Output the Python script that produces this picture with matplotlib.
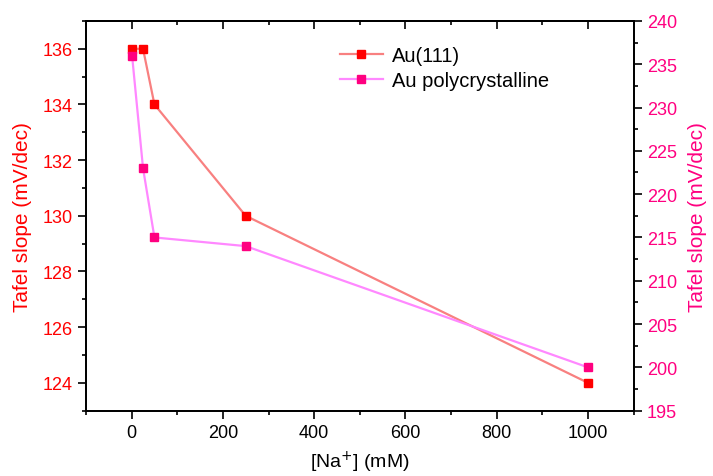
import matplotlib.pyplot as plt
from matplotlib.ticker import MultipleLocator

plt.rcParams.update({
    "font.family": ["Liberation Sans", "DejaVu Sans"],
    "font.size": 13,
    "axes.linewidth": 1.3,
})

# Na+ concentration (mM)
na_conc = [1, 25, 50, 250, 1000]
# Tafel slopes (mV/dec)
au111_slope = [136, 136, 134, 130, 124]
aupoly_slope = [236, 223, 215, 214, 200]

red_line = "#F88080"
red_marker = "#FF0000"
pink_line = "#FF88FF"
pink_marker = "#FF0080"

fig = plt.figure(figsize=(7.13, 4.77), dpi=100)
ax1 = fig.add_axes([0.1206, 0.137, 0.768, 0.817])
ax2 = ax1.twinx()

l1, = ax1.plot(na_conc, au111_slope, color=red_line, lw=1.6, marker='s',
               markersize=6, markerfacecolor=red_marker, markeredgecolor=red_marker,
               label="Au(111)")
l2, = ax2.plot(na_conc, aupoly_slope, color=pink_line, lw=1.6, marker='s',
               markersize=6, markerfacecolor=pink_marker, markeredgecolor=pink_marker,
               label="Au polycrystalline")

ax1.set_xlim(-100, 1100)
ax1.set_ylim(123, 137)
ax2.set_ylim(195, 240)

ax1.xaxis.set_major_locator(MultipleLocator(200))
ax1.xaxis.set_minor_locator(MultipleLocator(100))
ax1.yaxis.set_major_locator(MultipleLocator(2))
ax1.yaxis.set_minor_locator(MultipleLocator(1))
ax2.yaxis.set_major_locator(MultipleLocator(5))
ax2.yaxis.set_minor_locator(MultipleLocator(2.5))

ax1.tick_params(axis='x', which='major', direction='out', length=6, width=1.2)
ax1.tick_params(axis='x', which='minor', direction='out', length=3, width=1.2)
ax1.tick_params(axis='y', which='major', direction='out', length=6, width=1.2,
                labelcolor=red_marker)
ax1.tick_params(axis='y', which='minor', direction='out', length=3, width=1.2)
ax2.tick_params(axis='y', which='major', direction='out', length=6, width=1.2,
                labelcolor=pink_marker)
ax2.tick_params(axis='y', which='minor', direction='out', length=3, width=1.2)

# top axis: ticks pointing into the frame, no labels
top = ax1.secondary_xaxis('top')
top.xaxis.set_major_locator(MultipleLocator(200))
top.xaxis.set_minor_locator(MultipleLocator(100))
top.tick_params(which='major', direction='in', length=6, width=1.2, labeltop=False)
top.tick_params(which='minor', direction='in', length=3, width=1.2)

ax1.set_xlabel("[Na$^{+}$] (mM)", fontsize=14, labelpad=6)
ax1.set_ylabel("Tafel slope (mV/dec)", color=red_marker, fontsize=15, labelpad=8)
ax2.set_ylabel("Tafel slope (mV/dec)", color=pink_marker, fontsize=15, labelpad=8)

ax2.legend([l1, l2], ["Au(111)", "Au polycrystalline"], loc='upper left',
           bbox_to_anchor=(0.463, 0.935), frameon=False, fontsize=14.5,
           borderaxespad=0, borderpad=0,
           handlelength=2.15, handletextpad=0.45, labelspacing=0.3)

fig.savefig("out.png", dpi=100)
